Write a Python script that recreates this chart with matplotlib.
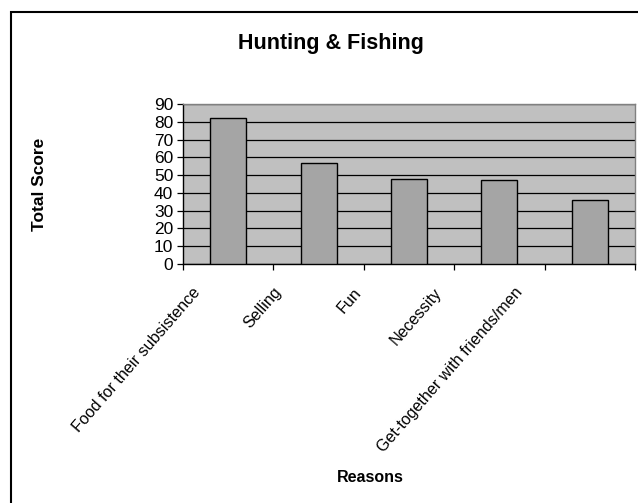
import matplotlib
matplotlib.use("Agg")
import matplotlib.pyplot as plt
from matplotlib.patches import Rectangle
import matplotlib.transforms as mtransforms

categories = ["Food for their subsistence", "Selling", "Fun", "Necessity",
              "Get-together with friends/men"]
values = [82, 57, 48, 47, 36]
yticks = [0, 10, 20, 30, 40, 50, 60, 70, 80, 90]

plt.rcParams['font.family'] = ['Liberation Sans', 'DejaVu Sans']

W, H = 638, 503
fig = plt.figure(figsize=(W / 100, H / 100), dpi=100)

def fx(px):
    return px / W

def fy(py):
    return 1 - py / H

left, right, top, bottom = 183, 635, 104, 264
ax = fig.add_axes([fx(left), fy(bottom), fx(right) - fx(left), fy(top) - fy(bottom)])
ax.set_facecolor('#c0c0c0')

x = list(range(len(categories)))
ax.bar(x, values, width=0.4, color='#a5a5a5', edgecolor='black', linewidth=1.0, zorder=3)

ax.set_xlim(-0.5, len(categories) - 0.5)
ax.set_ylim(0, 90)
ax.set_yticks(yticks)
ax.set_yticklabels([str(v) for v in yticks], fontsize=12.5)
ax.yaxis.grid(True, color='black', linewidth=0.9, zorder=1)
ax.set_axisbelow(True)

ax.set_xticks([i - 0.5 for i in range(len(categories) + 1)])
ax.set_xticklabels([])
ax.tick_params(axis='x', direction='out', length=4, width=0.9, color='black')
ax.tick_params(axis='y', direction='out', length=4, width=0.9, color='black', pad=3)

for s in ['top', 'right']:
    ax.spines[s].set_color('#808080')
    ax.spines[s].set_linewidth(1.0)
for s in ['left', 'bottom']:
    ax.spines[s].set_color('black')
    ax.spines[s].set_linewidth(1.0)

trans = mtransforms.blended_transform_factory(ax.transData, ax.transAxes)
for i, lab in enumerate(categories):
    ax.text(i * 0.89 - 0.40, -0.13, lab, transform=trans, rotation=49,
            rotation_mode='anchor', ha='right', va='top', fontsize=11.6)

fig.text(fx(331), fy(44), "Hunting & Fishing", ha='center', va='center',
         fontsize=15.5, fontweight='bold')
fig.text(fx(40), fy(184), "Total Score", ha='center', va='center',
         rotation=90, fontsize=12.5, fontweight='bold')
fig.text(fx(370), fy(478), "Reasons", ha='center', va='center',
         fontsize=11.5, fontweight='bold')

border = Rectangle((fx(10.5), -0.2), 1.2, fy(11.5) + 0.2, transform=fig.transFigure,
                   fill=False, edgecolor='black', linewidth=1.5, clip_on=False)
fig.patches.append(border)

fig.savefig("out.png", dpi=100, facecolor='white')
